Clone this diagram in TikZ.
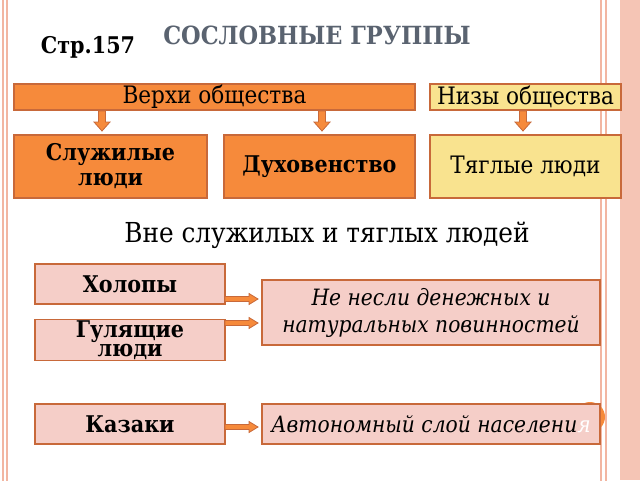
\documentclass[tikz,border=0pt]{standalone}
\usepackage{fontspec}
\setmainfont{DejaVu Serif Condensed}
\definecolor{upper}{HTML}{F68A3B}
\definecolor{lower}{HTML}{F9E38F}
\definecolor{rose}{HTML}{F5CEC8}
\definecolor{edge}{HTML}{C8693A}
\definecolor{frame}{HTML}{F2B6A2}
\definecolor{titlegray}{HTML}{5A6370}
% block arrows: \downarr{name}{x}{y} (top point), \rightarr{name}{x}{y} (left point)
\newcommand\downarr[3]{\coordinate (#1) at (#2,#3);
  \draw[edge,fill=upper,line width=0.8pt] ($(#1)+(-3.5,0)$) -- ++(7,0) -- ++(0,11) -- ++(4.5,0)
    -- ($(#1)+(0,20)$) -- ($(#1)+(-8,11)$) -- ++(4.5,0) -- cycle;}
\newcommand\rightarr[3]{\coordinate (#1) at (#2,#3);
  \draw[edge,fill=upper,line width=0.8pt] ($(#1)+(0,-2.5)$) -- ++(24,0) -- ++(0,-3) -- ($(#1)+(33,0)$)
    -- ($(#1)+(24,5.5)$) -- ++(0,-3) -- ++(-24,0) -- cycle;}
\usetikzlibrary{calc}
\begin{document}
\begin{tikzpicture}[x=1pt,y=-1pt]
% Styles
\tikzset{
  box/.style={draw=edge,line width=1.2pt,inner sep=2pt,align=center},
  up/.style={box,fill=upper},
  low/.style={box,fill=lower},
  pale/.style={box,fill=rose}
}
\useasboundingbox (0,0) rectangle (640,480);
\fill[white] (0,0) rectangle (640,480);

% Slide frame
\draw[frame,line width=1.2pt] (3,-5) -- (3,485);
\draw[frame,line width=1.2pt] (7,-5) -- (7,485);
\draw[frame,line width=1.2pt] (601,-5) -- (601,485);
\draw[frame,line width=1.2pt] (606,-5) -- (606,485);
\fill[frame!80] (620,0) rectangle (640,480);

% Heading
\node[text=titlegray,font=\bfseries\fontsize{25}{27}\selectfont] (title) at (317,35) {СОСЛОВНЫЕ ГРУППЫ};
\node[font=\bfseries\fontsize{23}{24}\selectfont] (page) at (88,47) {Стр.157};

% Top row
\node[up,minimum width=401pt,minimum height=26pt,inner sep=0pt,font=\fontsize{24}{24}\selectfont] (upper) at (214.5,97) {Верхи общества};
\node[low,minimum width=191pt,minimum height=26pt,inner sep=0pt,font=\fontsize{24}{24}\selectfont] (lower) at (525.5,97) {Низы общества};
\node[up,minimum width=193pt,minimum height=63pt,font=\bfseries\fontsize{23}{25}\selectfont] (serving) at (110.5,166.5) {Служилые\\люди};
\node[up,minimum width=191pt,minimum height=63pt,font=\bfseries\fontsize{23}{25}\selectfont] (clergy) at (319.5,166.5) {Духовенство};
\node[low,minimum width=191pt,minimum height=63pt,font=\fontsize{24}{25}\selectfont] (taxed) at (525.5,166.5) {Тяглые люди};
\downarr{a1}{102}{111}
\downarr{a2}{322}{111}
\downarr{a3}{523}{111}

\node[font=\fontsize{27.5}{29}\selectfont] (outside) at (327,235) {Вне служилых и тяглых людей};

% Bottom part
\fill[upper] (590,417) circle (15);
\node[pale,minimum width=190pt,minimum height=40pt,font=\bfseries\fontsize{23}{24}\selectfont] (serfs) at (130,284) {Холопы};
\node[pale,minimum width=190pt,minimum height=41pt,inner sep=0pt,font=\bfseries\fontsize{23}{19}\selectfont] (free) at (130,340) {Гулящие\\люди};
\node[pale,minimum width=338pt,minimum height=65pt,font=\itshape\fontsize{22.5}{27}\selectfont] (duty) at (431,312.5) {Не несли денежных и\\натуральных повинностей};
\node[pale,minimum width=190pt,minimum height=40pt,font=\bfseries\fontsize{23}{24}\selectfont] (cossacks) at (130,424) {Казаки};
\node[pale,minimum width=338pt,minimum height=40pt,font=\itshape\fontsize{22.5}{24}\selectfont] (auto) at (431,424) {Автономный слой населени\textcolor{white}{я}};
\rightarr{b1}{225}{299}
\rightarr{b2}{225}{323}
\rightarr{b3}{225}{427}
\end{tikzpicture}
\end{document}
